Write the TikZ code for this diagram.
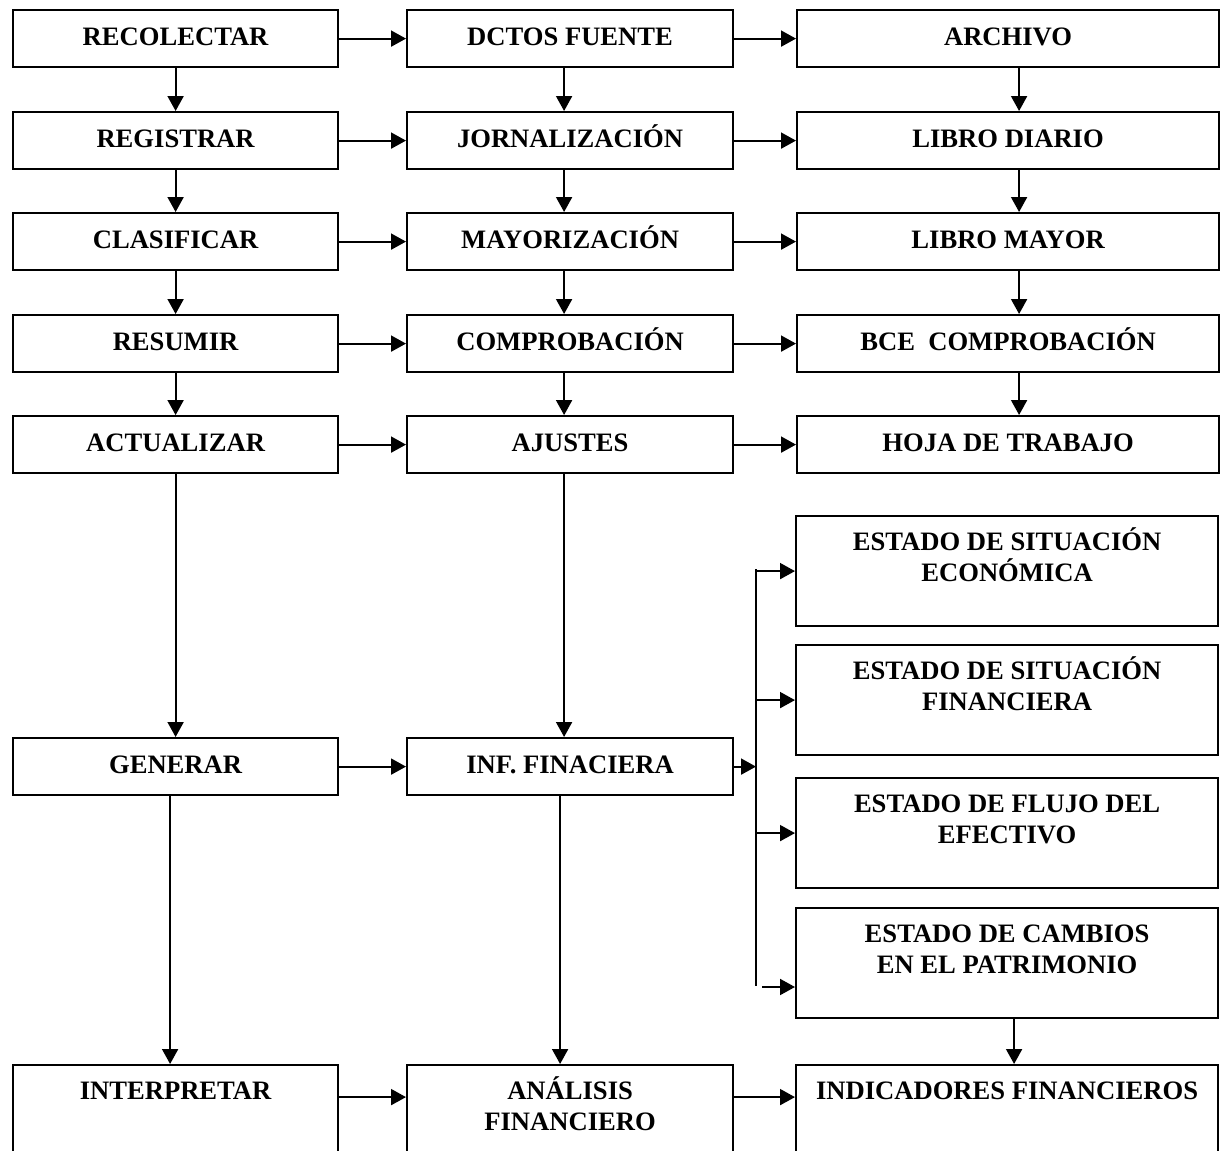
\documentclass[tikz,border=0pt]{standalone}
\usepackage{fontspec}
\setmainfont{Liberation Serif}
\usetikzlibrary{arrows.meta}

\begin{document}
\begin{tikzpicture}[x=0.5pt, y=-0.5pt, font=\bfseries\fontsize{13.3}{15.5}\selectfont,
	box/.style={draw, line width=1.1pt, anchor=north west, align=center, minimum height=28.5pt, text height=9pt, text depth=2pt},
	tallbox/.style={box, minimum height=55pt, text depth=30pt},
	twoline/.style={tallbox, text height=24.5pt, text depth=14.5pt},
	colA/.style={minimum width=162.5pt}, colB/.style={minimum width=163pt}, colC/.style={minimum width=211pt},
	arr/.style={-{Triangle[length=7.5pt, width=8pt]}, line width=1pt}]
	\path[use as bounding box] (0,0) rectangle (1223,1151);
	\clip (0,0) rectangle (1223,1151);
	% first column
	\node[box, colA] (recolectar) at (12,9) {RECOLECTAR};
	\node[box, colA] (registrar) at (12,111) {REGISTRAR};
	\node[box, colA] (clasificar) at (12,212) {CLASIFICAR};
	\node[box, colA] (resumir) at (12,314) {RESUMIR};
	\node[box, colA] (actualizar) at (12,415) {ACTUALIZAR};
	\node[box, colA] (generar) at (12,737) {GENERAR};
	\node[tallbox, colA] (interpretar) at (12,1064) {INTERPRETAR};
	% second column
	\node[box, colB] (fuente) at (406,9) {DCTOS FUENTE};
	\node[box, colB] (jornal) at (406,111) {JORNALIZACIÓN};
	\node[box, colB] (mayoriz) at (406,212) {MAYORIZACIÓN};
	\node[box, colB] (comprob) at (406,314) {COMPROBACIÓN};
	\node[box, colB] (ajustes) at (406,415) {AJUSTES};
	\node[box, colB] (inf) at (406,737) {INF. FINACIERA};
	\node[twoline, colB] (analisis) at (406,1064) {ANÁLISIS\\FINANCIERO};
	% third column
	\node[box, colC] (archivo) at (796,9) {ARCHIVO};
	\node[box, colC] (diario) at (796,111) {LIBRO DIARIO};
	\node[box, colC] (mayor) at (796,212) {LIBRO MAYOR};
	\node[box, colC] (bce) at (796,314) {BCE\ \ COMPROBACIÓN};
	\node[box, colC] (hoja) at (796,415) {HOJA DE TRABAJO};
	\node[twoline, colC] (econ) at (795,515) {ESTADO DE SITUACIÓN\\ECONÓMICA};
	\node[twoline, colC] (finan) at (795,644) {ESTADO DE SITUACIÓN\\FINANCIERA};
	\node[twoline, colC] (flujo) at (795,777) {ESTADO DE FLUJO DEL\\EFECTIVO};
	\node[twoline, colC] (cambios) at (795,907) {ESTADO DE CAMBIOS\\EN EL PATRIMONIO};
	\node[tallbox, colC] (indic) at (795,1064) {INDICADORES FINANCIEROS};
	% vertical arrows
	\foreach \a/\b in {recolectar/registrar, registrar/clasificar, clasificar/resumir, resumir/actualizar, actualizar/generar}
		\draw[arr] (\a.south) -- (\b.north);
	\foreach \a/\b in {fuente/jornal, jornal/mayoriz, mayoriz/comprob, comprob/ajustes, ajustes/inf}
		\draw[arr] ([xshift=-3pt]\a.south) -- ([xshift=-3pt]\b.north);
	\foreach \a/\b in {archivo/diario, diario/mayor, mayor/bce, bce/hoja}
		\draw[arr] ([xshift=5.5pt]\a.south) -- ([xshift=5.5pt]\b.north);
	\draw[arr] ([xshift=-2.75pt]generar.south) -- ([xshift=-2.75pt]interpretar.north);
	\draw[arr] ([xshift=-5pt]inf.south) -- ([xshift=-5pt]analisis.north);
	\draw[arr] ([xshift=3.5pt]cambios.south) -- ([xshift=3.5pt]indic.north);
	% horizontal arrows
	\foreach \a/\b in {recolectar/fuente, registrar/jornal, clasificar/mayoriz, resumir/comprob, actualizar/ajustes, generar/inf,
		fuente/archivo, jornal/diario, mayoriz/mayor, comprob/bce, ajustes/hoja}
		\draw[arr] (\a.east) -- (\b.west);
	\foreach \a/\b in {interpretar/analisis, analisis/indic}
		\draw[arr] ([yshift=11.5pt]\a.east) -- ([yshift=11.5pt]\b.west);
	% estados financieros
	\coordinate (bustop) at (756,569);
	\coordinate (busbot) at (756,986);
	\coordinate (cambin) at (762,987);
	\draw[arr] (inf.east) -- (inf.east -| bustop);
	\draw[line width=1pt] (bustop) -- (busbot);
	\foreach \n in {econ, finan, flujo}
		\draw[arr] (bustop |- \n.west) -- (\n.west);
	\draw[arr] (cambin) -- (cambin -| cambios.west);
\end{tikzpicture}
\end{document}
